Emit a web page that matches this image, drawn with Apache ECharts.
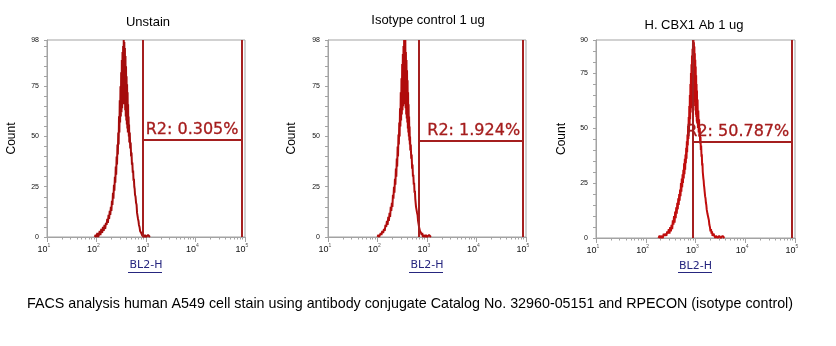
<!DOCTYPE html>
<html><head><meta charset="utf-8">
<script src="https://cdn.jsdelivr.net/npm/echarts@6/dist/echarts.min.js"></script>
<style>html,body{margin:0;padding:0;background:#fff}#c{width:836px;height:346px}</style>
</head><body><div id="c"></div>
<script>
// ---------- data ----------
const panelTitles = ['Unstain', 'Isotype control 1 ug', 'H. CBX1 Ab 1 ug'];
const caption = 'FACS analysis human A549 cell stain using antibody conjugate Catalog No. 32960-05151 and RPECON (isotype control)';
const xAxisName = 'BL2-H';
const yAxisName = 'Count';
const xTickValues = [10, 100, 1000, 10000, 100000];
const xTickExponents = ['1', '2', '3', '4', '5'];
const xMinorTickValues = [20,30,40,50,60,70,80,90,200,300,400,500,600,700,800,900,2000,3000,4000,5000,6000,7000,8000,9000,20000,30000,40000,50000,60000,70000,80000,90000];
const yMaxes = [98, 98, 90];

// [BL2-H channel value, count]
const unstainHist = [[92,0],[96,1],[100,0],[104,2],[108,0],[112,1],[116,3],[120,1],[125,4],[130,2],[135,5],[140,3],[145,6],[150,4],[155,7],[160,6],[165,9],[170,7],[175,11],[180,9],[185,13],[190,11],[195,15],[200,13],[205,18],[210,16],[215,22],[220,19],[225,26],[230,23],[235,30],[240,27],[245,35],[250,31],[255,40],[260,36],[265,46],[270,41],[275,52],[280,46],[285,60],[290,52],[295,68],[300,57],[305,75],[310,60],[315,82],[320,62],[325,88],[330,64],[335,92],[340,66],[345,95],[350,68],[355,98],[360,70],[365,97],[370,66],[375,94],[380,63],[385,90],[390,60],[395,85],[400,58],[405,80],[410,56],[415,76],[420,54],[425,72],[430,52],[435,66],[440,52],[445,60],[450,50],[455,56],[460,47],[470,52],[480,44],[490,47],[500,40],[510,42],[520,36],[530,37],[540,32],[550,33],[560,28],[570,29],[580,25],[590,24],[600,21],[615,20],[630,17],[645,16],[660,12],[675,12],[690,9],[705,8],[720,6],[740,5],[760,3],[780,3],[800,2],[830,1],[860,1],[900,0],[950,1],[1000,0],[1100,1],[1200,0]];

const isotypeHist = [[100,0],[104,1],[108,0],[112,1],[116,2],[120,1],[125,3],[130,2],[135,4],[140,3],[145,6],[150,5],[155,8],[160,6],[165,10],[170,8],[175,12],[180,10],[185,15],[190,13],[195,17],[200,15],[205,21],[210,19],[215,25],[220,22],[225,29],[230,26],[235,34],[240,30],[245,39],[250,35],[255,45],[260,40],[265,51],[270,46],[275,57],[280,50],[285,64],[290,55],[295,72],[300,58],[305,79],[310,61],[315,86],[320,63],[325,91],[330,65],[335,95],[340,67],[345,98],[350,69],[355,96],[360,66],[365,98],[370,64],[375,92],[380,61],[385,88],[390,59],[395,83],[400,57],[405,78],[410,54],[415,72],[420,52],[425,66],[430,50],[435,60],[440,48],[445,55],[450,46],[455,50],[460,43],[470,46],[480,39],[490,41],[500,34],[510,36],[520,30],[530,31],[540,26],[550,27],[560,22],[570,23],[580,19],[590,19],[600,15],[615,15],[630,12],[645,11],[660,8],[675,8],[690,5],[705,5],[720,3],[740,3],[760,2],[780,1],[800,2],[830,0],[860,1],[900,0],[950,1],[1000,0],[1100,1],[1200,0]];

const cbx1Hist = [[180,0],[190,1],[200,0],[210,1],[220,0],[230,2],[240,1],[250,2],[260,1],[270,3],[280,2],[290,4],[300,2],[310,5],[320,3],[330,6],[340,4],[350,8],[360,6],[370,10],[380,7],[390,12],[400,9],[410,14],[420,11],[430,16],[440,13],[450,18],[460,15],[470,20],[480,17],[490,22],[500,19],[510,25],[520,21],[530,27],[540,23],[550,29],[560,25],[570,31],[580,27],[590,34],[600,29],[610,36],[620,31],[630,38],[640,34],[650,41],[660,36],[670,44],[680,39],[690,47],[700,42],[710,51],[720,45],[730,55],[740,48],[750,60],[760,51],[770,65],[780,54],[790,70],[800,57],[810,75],[820,59],[830,79],[840,61],[850,83],[860,63],[870,86],[880,64],[890,90],[900,66],[910,90],[920,65],[930,89],[940,64],[950,87],[960,62],[970,84],[980,60],[990,81],[1000,58],[1010,78],[1020,56],[1030,74],[1040,55],[1050,70],[1060,53],[1070,67],[1080,52],[1100,63],[1120,50],[1140,58],[1160,48],[1180,54],[1200,46],[1220,50],[1240,43],[1260,46],[1280,40],[1300,42],[1320,37],[1340,38],[1360,33],[1380,34],[1400,30],[1420,30],[1440,27],[1460,26],[1480,24],[1500,23],[1530,21],[1560,19],[1590,18],[1620,16],[1650,15],[1680,13],[1710,12],[1740,11],[1780,10],[1820,9],[1860,8],[1900,6],[1950,5],[2000,3],[2050,4],[2100,2],[2150,3],[2200,1],[2300,2],[2400,1],[2500,0],[2600,1],[2800,0],[3000,1],[3200,0],[3500,1],[3800,0]];

const gateLeft = [870, 695, 883];
const gateRight = [85000, 87300, 88000];
const gateLevel = [48.5, 48, 43.9];
const gateLabels = ['R2: 0.305%', 'R2: 1.924%', 'R2: 50.787%'];

// ---------- build ----------
const histData = [unstainHist, isotypeHist, cbx1Hist];
const histColors = ['#a50c0c', '#b00c0c', '#c00d0d'];

const grids = [
  {left: 47, top: 40, width: 198, height: 197},
  {left: 328, top: 40, width: 198, height: 197},
  {left: 596, top: 40, width: 199, height: 198}
];
const titlePos = [{left: 143, top: 11}, {left: 423, top: 9}, {left: 689, top: 14}];
const yNameGap = [29, 30, 28];
const axisGray = '#a3a3a3';
const gateColor = '#a51f1f';

const option = {
  backgroundColor: '#fff',
  animation: false,
  title: panelTitles.map((t, i) => ({
    text: t, left: titlePos[i].left, top: titlePos[i].top, textAlign: 'center',
    textStyle: {fontFamily: 'Liberation Sans', fontSize: 13, fontWeight: 'normal', color: '#000'}
  })).concat([{
    text: caption, left: 405, top: 292, textAlign: 'center',
    textStyle: {fontFamily: 'Liberation Sans', fontSize: 14.3, fontWeight: 'normal', color: '#000'}
  }]),
  grid: grids.map(g => Object.assign({show: true, borderColor: axisGray, borderWidth: 1, backgroundColor: 'transparent'}, g)),
  xAxis: [],
  yAxis: [],
  series: [],
  graphic: []
};

grids.forEach((g, i) => {
  option.xAxis.push({
    type: 'log', logBase: 10, min: 10, max: 100000, gridIndex: i, position: 'bottom',
    name: xAxisName, nameLocation: 'middle', nameGap: 23,
    nameTextStyle: {fontFamily: 'DejaVu Sans', fontSize: 11, color: '#26267f'},
    axisLine: {show: true, lineStyle: {color: axisGray, width: 1}},
    axisTick: {show: true, length: 5, customValues: xTickValues, lineStyle: {color: axisGray}},
    axisLabel: {
      show: true, margin: 6, customValues: xTickValues, showMinLabel: true, showMaxLabel: true,
      formatter: v => {
        const k = xTickValues.findIndex(t => Math.abs(t - v) / t < 1e-6);
        return '{b|10}{s|' + (k >= 0 ? xTickExponents[k] : '') + '}{p|}';
      },
      rich: {
        b: {fontFamily: 'Liberation Sans', fontSize: 9, color: '#111', lineHeight: 11, verticalAlign: 'bottom'},
        s: {fontFamily: 'Liberation Sans', fontSize: 5, color: '#555', lineHeight: 11, verticalAlign: 'top'},
        p: {width: 6, lineHeight: 11}
      }
    },
    splitLine: {show: false}
  });
  option.xAxis.push({
    type: 'log', logBase: 10, min: 10, max: 100000, gridIndex: i, position: 'bottom', offset: 0,
    axisLine: {show: false},
    axisTick: {show: true, length: 2.5, customValues: xMinorTickValues, lineStyle: {color: axisGray}},
    axisLabel: {show: false},
    splitLine: {show: false}
  });
  option.yAxis.push({
    type: 'value', min: 0, max: yMaxes[i], interval: 25, gridIndex: i,
    name: yAxisName, nameLocation: 'middle', nameGap: yNameGap[i],
    nameTextStyle: {fontFamily: 'Liberation Sans', fontSize: 12, color: '#000'},
    axisLine: {show: true, lineStyle: {color: axisGray}},
    axisTick: {show: true, length: 3, lineStyle: {color: axisGray}},
    minorTick: {show: true, splitNumber: 5, length: 3, lineStyle: {color: axisGray}},
    axisLabel: {margin: 8, fontFamily: 'Liberation Sans', fontSize: 7, color: '#111', showMaxLabel: true},
    splitLine: {show: false}
  });
  option.series.push({
    type: 'line', xAxisIndex: 2 * i, yAxisIndex: i, data: [], z: 2, silent: true,
    markLine: {
      silent: true, symbol: ['none', 'none'], animation: false,
      lineStyle: {color: gateColor, width: 2, type: 'solid'},
      label: {show: false},
      emphasis: {disabled: true},
      data: [
        [{coord: [gateLeft[i], 0]}, {coord: [gateLeft[i], yMaxes[i]]}],
        [{coord: [gateRight[i], 0]}, {coord: [gateRight[i], yMaxes[i]]}],
        [{coord: [gateLeft[i], gateLevel[i]], name: gateLabels[i],
          label: {show: true, position: 'insideEndTop', formatter: '{b}', distance: [3, 2],
                  fontFamily: 'DejaVu Sans', fontSize: 16, color: '#a51c1c',
                  textBorderColor: '#a51c1c', textBorderWidth: 0.3}},
         {coord: [gateRight[i], gateLevel[i]]}]
      ]
    }
  });
  option.series.push({
    type: 'line', xAxisIndex: 2 * i, yAxisIndex: i, data: histData[i], z: 3,
    showSymbol: false, symbol: 'none', silent: true, clip: true,
    lineStyle: {color: histColors[i], width: 2}
  });
});

// underline of axis titles
const underline = [[128, 162], [409, 443], [678, 712]];
underline.forEach(u => option.graphic.push({
  type: 'line', shape: {x1: u[0], y1: 272.5, x2: u[1], y2: 272.5},
  style: {stroke: '#26267f', lineWidth: 1}, silent: true
}));

const chart = echarts.init(document.getElementById('c'), null, {renderer: 'canvas'});
chart.setOption(option);
</script>
</body></html>
